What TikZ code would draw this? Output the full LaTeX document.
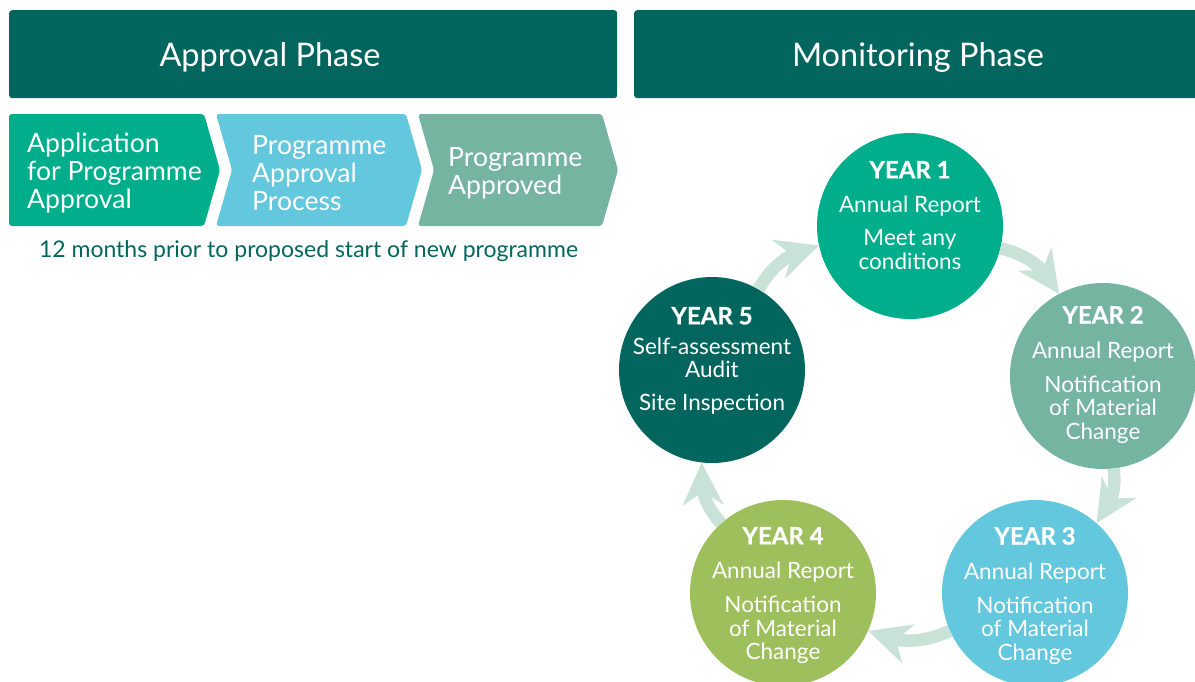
\documentclass[tikz,border=0pt]{standalone}
\usepackage{fontspec}
\setmainfont{Lato}
\usetikzlibrary{arrows.meta, bending, positioning}

\definecolor{dunkelgruen}{HTML}{02665E}
\definecolor{gruen}{HTML}{00AE8B}
\definecolor{hellblau}{HTML}{63C7DD}
\definecolor{salbei}{HTML}{74B4A0}
\definecolor{oliv}{HTML}{9DC05D}
\definecolor{pfeilfarbe}{HTML}{C8E2D8}
\newcommand{\jahrfont}{\bfseries\fontsize{24}{24}\selectfont\addfontfeatures{FakeBold=0.8}}

\begin{document}
\begin{tikzpicture}[
        x=1pt, y=1pt,
        kopf/.style = {fill=dunkelgruen, rounded corners=3pt, minimum height=88pt, anchor=north west, node contents={}},
        kopftxt/.style = {text=white, inner sep=0pt, font=\fontsize{32.5}{32.5}\selectfont},
        chev/.style = {rounded corners=3pt},
        chevtxt/.style = {text=white, align=left, anchor=west, inner sep=0pt, font=\fontsize{26.6}{28}\selectfont},
        kreis/.style = {circle, minimum size=186pt, inner sep=0pt, node contents={}},
        ktxt/.style = {text=white, align=center, inner sep=0pt, font=\fontsize{22.5}{23.5}\selectfont},
        pfeil/.style = {line width=12.5pt, draw=pfeilfarbe, -{Stealth[length=42pt, width=40pt, inset=13pt]}, bend left=24}
    ]
    \useasboundingbox (0,0) rectangle (1195,-681);

    %Kopfzeile
    \node at(9,-10)(kopf_a)[kopf, minimum width=608pt];
    \node at(634,-10)(kopf_m)[kopf, minimum width=570pt];
    \node at(270,-57)(kopf_a_txt)[kopftxt]{Approval Phase};
    \node at(918,-57)(kopf_m_txt)[kopftxt]{Monitoring Phase};

    %Chevrons
    \fill[chev, gruen]   (9,-114) -- (204,-114) -- (220,-170) -- (204,-226) -- (9,-226) -- cycle;
    \fill[chev, hellblau] (216,-114) -- (406,-114) -- (422,-170) -- (406,-226) -- (216,-226) -- (232,-170) -- cycle;
    \fill[chev, salbei]  (418,-114) -- (602,-114) -- (618,-170) -- (602,-226) -- (418,-226) -- (434,-170) -- cycle;
    \node at(27,-173)(antrag)[chevtxt]{Application\\for Programme\\Approval};
    \node at(252,-173)(verfahren)[chevtxt]{Programme\\Approval\\Process};
    \node at(448,-173)(genehmigt)[chevtxt]{Programme\\Approved};
    \node at(308.5,-251)(frist)[text=dunkelgruen, font=\fontsize{23}{23}\selectfont]{12 months prior to proposed start of new programme};

    %Kreise
    \node at(910,-226)(y1)[kreis, fill=gruen];
    \node at(1103,-376)(y2)[kreis, fill=salbei];
    \node at(1035,-593)(y3)[kreis, fill=hellblau];
    \node at(783,-593)(y4)[kreis, fill=oliv];
    \node at(712,-370)(y5)[kreis, fill=dunkelgruen];

    %Texte
    \node[ktxt, below=28pt of y1.north](t1){{\jahrfont YEAR 1}\\[11pt] Annual Report\\[9.5pt] Meet any\\ conditions};
    \node[ktxt, below=23pt of y2.north](t2){{\jahrfont YEAR 2}\\[11pt] Annual Report\\[10.5pt] Notification\\ of Material\\ Change};
    \node[ktxt, below=27pt of y3.north](t3){{\jahrfont YEAR 3}\\[11pt] Annual Report\\[10.5pt] Notification\\ of Material\\ Change};
    \node[ktxt, below=27pt of y4.north](t4){{\jahrfont YEAR 4}\\[11pt] Annual Report\\[10.5pt] Notification\\ of Material\\ Change};
    \node[ktxt, below=30pt of y5.north](t5){{\jahrfont YEAR 5}\\[6.5pt] Self-assessment\\ Audit\\[9.5pt] Site Inspection};

    %Pfeile
    \draw[pfeil] (y1) to (y2);
    \draw[pfeil] (y2) to (y3);
    \draw[pfeil] (y3) to (y4);
    \draw[pfeil] (y4) to (y5);
    \draw[pfeil] (y5) to (y1);

\end{tikzpicture}
\end{document}
